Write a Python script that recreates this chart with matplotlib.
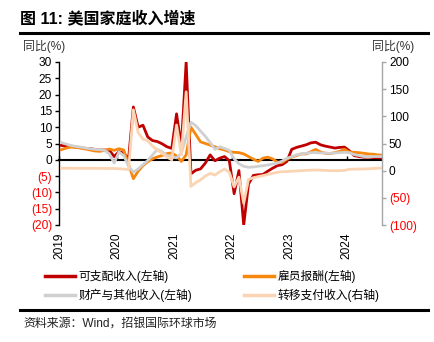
import matplotlib
matplotlib.use("Agg")
import matplotlib.pyplot as plt
import numpy as np
from matplotlib.lines import Line2D

plt.rcParams['font.family'] = ['Liberation Sans', 'Noto Sans CJK SC', 'DejaVu Sans']

# Monthly data, Jan 2019 .. Aug 2024
disposable = [4.4, 4.2, 4.1, 3.9, 3.7, 3.5, 3.4, 3.2, 3.0, 3.0, 2.9, 1.0,
              2.5, 2.0, 0.3, 16.2, 10.0, 10.6, 7.0, 5.9, 5.6, 4.9, 4.0, 3.5,
              14.1, 4.0, 30.0, -4.3, -3.2, -2.8, -1.0, 1.5, -0.3, 0.5, 1.0, -0.3,
              -10.4, -3.3, -20.0, -7.4, -4.8, -4.6, -4.5, -3.5, -2.6, -1.8, -1.5, -0.5,
              3.2, 3.8, 4.2, 4.6, 5.2, 5.4, 4.6, 4.2, 3.9, 3.6, 3.8, 3.9,
              2.8, 1.3, 1.0, 0.8, 0.8, 0.7, 0.6, 0.6]
compensation = [3.1, 3.6, 3.9, 3.8, 3.6, 3.3, 3.0, 2.7, 2.6, 2.9, 3.3, 2.9,
                3.4, 3.0, -1.5, -5.8, -3.5, -1.8, -0.6, 0.3, 0.9, 1.3, 1.9, 2.1,
                1.2, -0.5, 1.5, 10.0, 7.8, 5.5, 5.0, 4.5, 4.0, 3.4, 3.0, 2.5,
                2.3, 2.2, 1.8, 1.0, 0.2, -0.5, 0.5, 0.8, 0.3, -0.7, -0.8, 0.2,
                0.8, 1.3, 1.8, 1.8, 2.5, 3.2, 2.4, 2.0, 1.9, 2.2, 2.6, 3.2,
                2.4, 2.3, 2.2, 2.0, 1.8, 1.7, 1.5, 1.4]
property_other = [5.3, 4.8, 4.4, 4.1, 3.9, 3.6, 3.4, 3.2, 3.1, 2.9, 1.8, -1.0,
                  2.4, 1.3, -2.0, -3.8, -2.8, -1.5, -0.2, 1.5, 3.2, 2.5, 1.3, 0.9,
                  0.6, 2.0, 7.0, 11.5, 10.5, 8.8, 7.2, 5.3, 3.2, 4.0, 3.5, 2.9,
                  0.3, -1.2, -2.0, -2.3, -2.2, -2.0, -1.8, -1.6, -1.3, -1.0, -0.4, 0.5,
                  0.9, 1.5, 1.8, 2.0, 2.2, 2.2, 2.1, 2.1, 2.0, 2.1, 2.2, 2.3,
                  2.2, 1.6, 1.3, 1.0, 0.9, 1.0, 1.0, 1.0]
transfer = [4.5, 4.5, 4.4, 4.4, 4.4, 4.3, 4.3, 4.2, 4.2, 4.1, 4.1, 4.0,
            3.5, 3.0, 2.0, 112.0, 70.0, 58.0, 55.0, 45.0, 38.0, 32.0, 25.0, 20.0,
            84.0, 29.0, 145.0, -29.0, -22.0, -17.0, -10.0, -5.0, -8.0, -2.0, 3.0, -3.0,
            -30.0, -12.0, -60.0, -16.0, -13.0, -11.0, -9.0, -7.0, -5.0, -3.0, -2.0, -1.5,
            -1.0, -0.5, 0.0, 0.5, 1.0, 1.2, 1.0, 0.5, 0.0, 0.0, 0.0, 0.5,
            2.5, 2.8, 3.0, 3.2, 3.5, 4.0, 4.5, 5.0]

years = [2019, 2020, 2021, 2022, 2023, 2024]
left_ticks = [30, 25, 20, 15, 10, 5, 0, -5, -10, -15, -20]
left_labels = ['30', '25', '20', '15', '10', '5', '0', '(5)', '(10)', '(15)', '(20)']
right_ticks = [200, 150, 100, 50, 0, -50, -100]
right_labels = ['200', '150', '100', '50', '0', '(50)', '(100)']

labels = ['可支配收入(左轴)', '雇员报酬(左轴)', '财产与其他收入(左轴)', '转移支付收入(右轴)']
colors = ['#C00000', '#F8870E', '#D0D0D0', '#FBD4B4']

n = len(disposable)
x = 2019 + (np.arange(n) + 0.5) / 12.0

fig = plt.figure(figsize=(4.34, 3.42), dpi=100)
ax = fig.add_axes([59/434, 1-225/342, 323/434, 163/342])
ax2 = ax.twinx()

lw = 2.0
ax.plot(x, disposable, color=colors[0], lw=lw, solid_joinstyle='round', zorder=3)
ax.plot(x, compensation, color=colors[1], lw=lw, solid_joinstyle='round', zorder=3)
ax.plot(x, property_other, color=colors[2], lw=lw, solid_joinstyle='round', zorder=3)
ax2.plot(x, transfer, color=colors[3], lw=lw, solid_joinstyle='round', zorder=3)

ax.set_xlim(2019, 2024.61)
ax.set_ylim(-20, 30)
ax2.set_ylim(-100, 200)

# left axis
ax.set_yticks(left_ticks)
ax.set_yticklabels(left_labels, fontsize=8.6)
ax.tick_params(axis='y', direction='out', length=3, width=1, colors='black', pad=2)
for t, v in zip(ax.get_yticklabels(), left_ticks):
    t.set_color('red' if v < 0 else 'black')
ax.spines['left'].set_linewidth(1.0)
ax.spines['top'].set_visible(False)
ax.spines['right'].set_visible(False)
ax.spines['bottom'].set_position(('data', 0))
ax.spines['bottom'].set_linewidth(1.5)
ax.spines['bottom'].set_zorder(2)

# x axis
ax.set_xticks(years)
ax.set_xticklabels([str(y) for y in years], rotation=90, fontsize=8.6, va='top', ha='center')
ax.tick_params(axis='x', direction='in', length=3, width=1, pad=52)

# right axis
ax2.set_yticks(right_ticks)
ax2.set_yticklabels(right_labels, fontsize=8.6)
ax2.tick_params(axis='y', direction='out', length=3, width=1, colors='#A6A6A6', pad=2)
for t, v in zip(ax2.get_yticklabels(), right_ticks):
    t.set_color('red' if v < 0 else 'black')
for s in ['top', 'left', 'bottom']:
    ax2.spines[s].set_visible(False)
ax2.spines['right'].set_color('#A6A6A6')
ax2.spines['right'].set_linewidth(1.0)

# titles and unit labels
fig.text(20/434, 1-18/342, '图 11: 美国家庭收入增速', fontsize=11.5, fontweight='bold',
         va='center', ha='left')
fig.add_artist(Line2D([20/434, 428/434], [1-33/342, 1-33/342], color='black', lw=2.2))
fig.text(23/434, 1-46/342, '同比(%)', fontsize=8.6, va='center', ha='left', color='#333333')
fig.text(414/434, 1-46/342, '同比(%)', fontsize=8.6, va='center', ha='right', color='#333333')

# legend
handles = [Line2D([], [], color=c, lw=2.5) for c in colors]
order = [0, 2, 1, 3]
fig.legend([handles[i] for i in order], [labels[i] for i in order],
           loc='upper left', bbox_to_anchor=(45/434, 1-270/342), ncol=2, frameon=False,
           fontsize=8.5, handlelength=2.5, handletextpad=0.35, columnspacing=4.4,
           labelspacing=0.45, borderaxespad=0, borderpad=0)

fig.add_artist(Line2D([20/434, 428/434], [1-310/342, 1-310/342], color='black', lw=2.2))
fig.text(23/434, 1-324/342, '资料来源：Wind，招银国际环球市场', fontsize=8.6, va='center',
         ha='left', color='#222222')

fig.savefig('out.png', dpi=100)
